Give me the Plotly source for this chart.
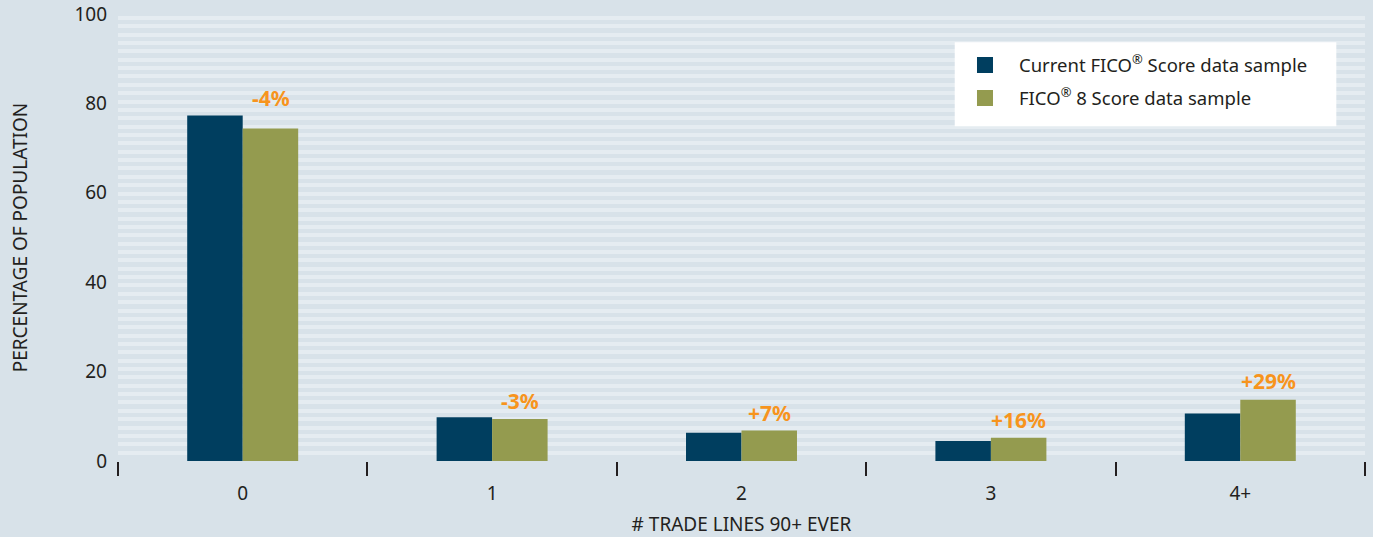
import plotly.graph_objects as go

# Share of population by number of trade lines 90+ days delinquent ever
categories = ["0", "1", "2", "3", "4+"]
current_fico = [77.3, 9.8, 6.3, 4.5, 10.6]
fico_8 = [74.4, 9.4, 6.8, 5.2, 13.7]
change_labels = ["-4%", "-3%", "+7%", "+16%", "+29%"]
label_lift = [14, 2, 2, 2, 3]

series_names = ["Current FICO<sup>\u00ae</sup> Score data sample", "FICO<sup>\u00ae</sup> 8 Score data sample"]
DARK = "#003E5F"
OLIVE = "#949B4F"
ORANGE = "#F7941D"
BG = "#D8E2E9"
STRIPE = "#E5ECF1"
FONT = "Noto Sans"

fig = go.Figure()
fig.add_trace(go.Bar(x=categories, y=current_fico, marker=dict(color=DARK, line=dict(width=0)),
                     showlegend=False, hoverinfo="y"))
fig.add_trace(go.Bar(x=categories, y=fico_8, marker=dict(color=OLIVE, line=dict(width=0)),
                     showlegend=False, hoverinfo="y"))

# legend entries drawn as square markers
for name, col, grp in zip(series_names, [DARK, OLIVE], ["a", "b"]):
    fig.add_trace(go.Scatter(x=[None], y=[None], mode="markers", name=name, legendgroup=grp,
                             marker=dict(symbol="square", size=17, color=col)))

# percent-change labels above the FICO 8 bars
for cat, val, txt, lift in zip(categories, fico_8, change_labels, label_lift):
    fig.add_annotation(x=cat, y=val, text="<b>" + txt + "</b>", showarrow=False,
                       xshift=28, yshift=lift, yanchor="bottom",
                       font=dict(family=FONT, size=21, color=ORANGE))

# white panel behind the legend
fig.add_shape(type="rect", xref="paper", yref="paper", x0=0.671, x1=0.977, y0=0.749, y1=0.937,
              fillcolor="white", line=dict(width=0), layer="above")

fig.update_layout(
    width=1373, height=537,
    margin=dict(l=118, r=8, t=14, b=76, autoexpand=False),
    paper_bgcolor=BG, plot_bgcolor=BG,
    barmode="group", bargap=0.555, bargroupgap=0,
    font=dict(family=FONT, size=19, color="#231F20"),
    legend=dict(x=0.668, y=0.9275, xanchor="left", yanchor="top",
                bgcolor="rgba(0,0,0,0)", borderwidth=0, tracegroupgap=6,
                font=dict(family=FONT, size=18.5, color="#231F20"), itemwidth=58),
    xaxis=dict(
        type="category", showgrid=False, zeroline=False, showline=False, automargin=False,
        ticks="outside", tickson="boundaries", ticklen=14, tickwidth=2, tickcolor="#231F20",
        ticklabelstandoff=19, tickfont=dict(size=19),
        title=dict(text="# TRADE LINES 90+ EVER", font=dict(size=19), standoff=17),
    ),
    yaxis=dict(
        range=[0, 100], tickvals=[0, 20, 40, 60, 80, 100], showgrid=False, zeroline=False,
        showline=False, ticks="", ticklabelstandoff=10, tickfont=dict(size=19), automargin=False,
        title=dict(text="PERCENTAGE OF POPULATION", font=dict(size=19), standoff=41),
        minor=dict(tick0=0, dtick=1.87, showgrid=True, gridwidth=4, gridcolor=STRIPE, ticks=""),
    ),
)

fig.write_html("out.html")
